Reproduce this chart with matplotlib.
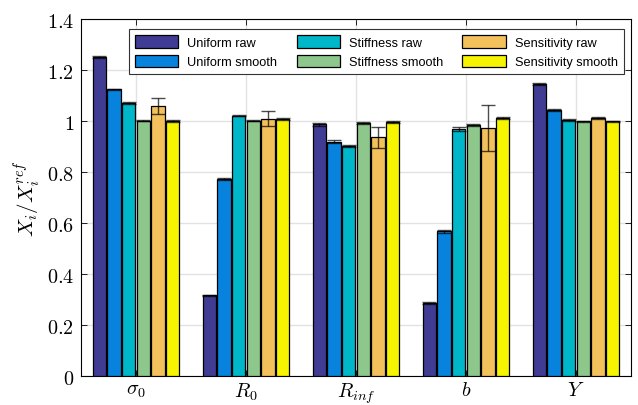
import matplotlib.pyplot as plt
import numpy as np

plt.rcParams['mathtext.fontset'] = 'cm'

params = [r'$\sigma_0$', r'$R_0$', r'$R_{inf}$', r'$b$', r'$Y$']
series = ['Uniform raw', 'Uniform smooth', 'Stiffness raw',
          'Stiffness smooth', 'Sensitivity raw', 'Sensitivity smooth']
colors = ['#403c94', '#0783de', '#00b6c9', '#8dc78b', '#f2c15b', '#f6f400']

# one row per series, one column per parameter
values = np.array([
    [1.250, 0.316, 0.987, 0.286, 1.146],
    [1.124, 0.773, 0.919, 0.568, 1.044],
    [1.070, 1.021, 0.903, 0.968, 1.004],
    [1.002, 1.002, 0.993, 0.985, 0.999],
    [1.058, 1.009, 0.936, 0.974, 1.011],
    [1.001, 1.008, 0.997, 1.012, 0.999],
])
errors = np.array([
    [0.004, 0.002, 0.005, 0.003, 0.003],
    [0.003, 0.003, 0.005, 0.006, 0.003],
    [0.003, 0.003, 0.003, 0.008, 0.002],
    [0.003, 0.003, 0.003, 0.003, 0.002],
    [0.032, 0.030, 0.040, 0.090, 0.004],
    [0.003, 0.003, 0.003, 0.004, 0.002],
])

fig = plt.figure(figsize=(6.38, 4.06), dpi=100)
ax = fig.add_axes([0.127, 0.0714, 0.862, 0.8793])

x = np.arange(1, len(params) + 1)
n = len(series)
step = 0.8 / n
for i in range(n):
    pos = x - 0.4 + step * (i + 0.5)
    ax.bar(pos, values[i], width=step * 0.92, color=colors[i],
           edgecolor='black', linewidth=0.9, label=series[i], zorder=3)
    ax.errorbar(pos, values[i], yerr=errors[i], fmt='none', ecolor='black',
                elinewidth=1.0, capsize=5, capthick=1.0, alpha=0.7, zorder=4)

ax.set_xlim(0.5, 5.5)
ax.set_ylim(0, 1.4)
ax.set_xticks(x)
ax.set_xticklabels(params, fontsize=14.5)
yt = np.arange(0, 1.41, 0.2)
ax.set_yticks(yt)
ax.set_yticklabels(['$%g$' % round(v, 1) for v in yt], fontsize=14.5)
ax.tick_params(direction='in', top=True, right=True, length=4, width=0.6,
               pad=5)
ax.tick_params(axis='x', pad=3)
ax.grid(True, color='#e2e2e2', linewidth=1.0, zorder=0)
ax.set_axisbelow(True)
for s in ax.spines.values():
    s.set_linewidth(0.8)
ax.set_ylabel(r'$X_i/X_i^{ref}$', fontsize=15, labelpad=3)

leg = ax.legend(loc='upper left', bbox_to_anchor=(0.075, 0.99), ncol=3,
                prop={'family': 'Liberation Sans', 'size': 9.2},
                fancybox=False, edgecolor='#333333', framealpha=1,
                handlelength=3.4, handleheight=1.1, columnspacing=1.5,
                borderpad=0.5, labelspacing=0.45, handletextpad=0.7)
leg.get_frame().set_linewidth(0.8)

fig.savefig('out.png', dpi=100)
